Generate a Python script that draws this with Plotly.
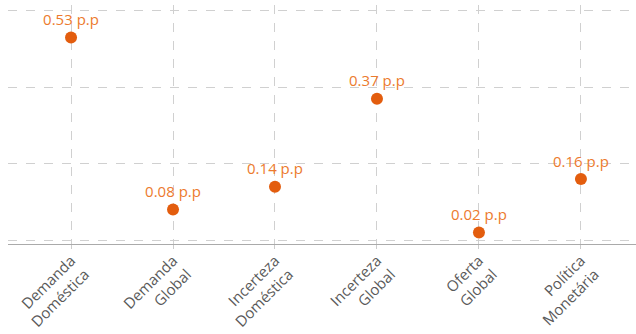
import plotly.graph_objects as go

categories = ["Demanda<br>Doméstica", "Demanda<br>Global", "Incerteza<br>Doméstica",
              "Incerteza<br>Global", "Oferta<br>Global", "Política<br>Monetária"]
values = [0.53, 0.08, 0.14, 0.37, 0.02, 0.16]
labels = ["0.53 p.p", "0.08 p.p", "0.14 p.p", "0.37 p.p", "0.02 p.p", "0.16 p.p"]

fig = go.Figure()
fig.add_trace(go.Scatter(
    x=list(range(len(categories))), y=values, mode="markers+text",
    text=labels, textposition="top center",
    textfont=dict(family="Open Sans", size=15, color="#EC7A2E"),
    marker=dict(color="#E35D0E", size=12),
    cliponaxis=False, showlegend=False,
))
fig.update_layout(
    width=636, height=334,
    margin=dict(l=8, r=0, t=5, b=90),
    plot_bgcolor="white", paper_bgcolor="white",
    font=dict(family="Open Sans", color="#555555"),
)
fig.update_xaxes(
    tickmode="array", tickvals=list(range(len(categories))), ticktext=categories,
    range=[-0.618, 5.54], tickangle=-45, tickfont=dict(size=15, color="#5a5a5a"),
    showgrid=True, gridcolor="#d0d0d0", griddash="dash", gridwidth=1,
    showline=True, linecolor="#aaaaaa", linewidth=1,
    ticks="outside", ticklen=4, tickcolor="#cccccc", zeroline=False,
    automargin=False, ticklabelstandoff=-3,
)
fig.update_yaxes(
    range=[-0.01, 0.615], tickvals=[0, 0.2, 0.4, 0.6], showticklabels=False,
    showgrid=True, gridcolor="#d0d0d0", griddash="dash", gridwidth=1,
    zeroline=False, showline=False, automargin=False,
)
fig.write_html("out.html")
